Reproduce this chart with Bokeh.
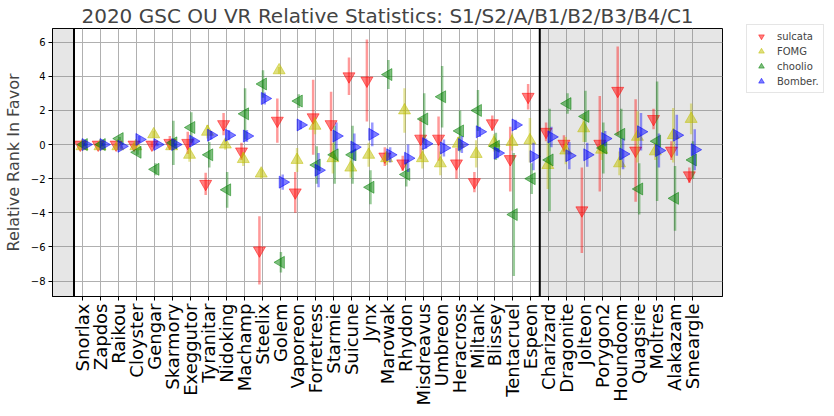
import numpy as np
from bokeh.plotting import figure
from bokeh.models import (ColumnDataSource, FixedTicker, BoxAnnotation, Span,
                          Legend, LegendItem, Range1d)
from bokeh.embed import file_html
from bokeh.resources import INLINE

pokemon = ["Snorlax", "Zapdos", "Raikou", "Cloyster", "Gengar", "Skarmory",
           "Exeggutor", "Tyranitar", "Nidoking", "Machamp", "Steelix", "Golem",
           "Vaporeon", "Forretress", "Starmie", "Suicune", "Jynx", "Marowak",
           "Rhydon", "Misdreavus", "Umbreon", "Heracross", "Miltank", "Blissey",
           "Tentacruel", "Espeon", "Charizard", "Dragonite", "Jolteon",
           "Porygon2", "Houndoom", "Quagsire", "Moltres", "Alakazam", "Smeargle"]

sulcata = [0.0, 0.0, 0.0, 0.0, 0.0, 0.1, 0.1, -2.3, 1.2, -0.4, -6.2, 1.4,
           -2.8, 1.6, 1.2, 4.0, 3.75, -0.7, -1.1, 0.35, 0.35, -1.1, -2.2, 1.25,
           -0.85, 2.8, 0.75, 0.05, -3.85, 0.05, 3.15, -0.35, 1.5, -0.35, -1.8]
sulcata_err = [0.1, 0.1, 0.1, 0.1, 0.15, 0.4, 0.65, 0.65, 0.65, 0.5, 2.0, 1.3,
               1.2, 2.2, 1.9, 1.1, 2.4, 0.55, 0.45, 1.2, 1.3, 0.9, 0.6, 0.45,
               1.9, 0.75, 0.55, 0.5, 2.5, 2.8, 2.6, 3.0, 0.6, 0.55, 0.45]

fomg = [-0.1, -0.1, -0.1, -0.1, 0.6, -0.1, -0.6, 0.75, 0.0, -0.85, -1.7, 4.35,
        -0.9, 1.1, -0.8, -1.35, -0.6, -0.8, 2.0, -0.8, -1.1, 0.05, -0.55, 0.1,
        0.15, 0.25, -1.2, -0.35, 0.95, -0.3, -1.1, 0.45, -0.4, 0.55, 1.5]
fomg_err = [0.1, 0.1, 0.1, 0.1, 0.2, 0.2, 0.4, 0.4, 0.3, 0.4, 0.3, 0.2,
            0.7, 0.5, 0.9, 0.6, 0.7, 0.4, 1.3, 0.6, 0.7, 0.4, 0.8, 0.5,
            0.5, 1.3, 1.4, 0.8, 0.8, 0.6, 0.7, 1.5, 0.5, 1.6, 0.9]

choolio = [0.0, 0.0, 0.35, -0.45, -1.45, 0.1, 1.0, -0.6, -2.65, 1.8, 3.55, -6.9,
           2.55, -1.2, -0.6, -0.6, -2.5, 4.1, -1.75, 1.5, 2.8, 0.8, 2.0, -0.1,
           -4.1, -2.0, -0.9, 2.4, 1.65, -0.2, 0.6, -2.6, 0.2, -3.15, -0.9]
choolio_err = [0.1, 0.1, 0.1, 0.15, 0.35, 1.3, 0.9, 0.75, 1.05, 1.5, 0.8, 0.6,
               0.4, 1.1, 1.7, 1.7, 1.0, 0.85, 0.7, 1.5, 1.8, 1.2, 1.2, 0.8,
               3.6, 0.9, 3.0, 0.6, 1.5, 1.5, 1.5, 1.5, 3.5, 1.9, 1.1]

bomber = [0.0, 0.0, -0.1, 0.3, 0.0, 0.0, 0.2, 0.55, 0.55, 0.5, 2.7, -2.2,
          1.15, -1.5, 0.5, -0.15, 0.6, -0.6, -0.8, 0.05, -0.2, 0.0, 0.75, -0.5,
          1.15, -0.7, 0.45, -0.65, -0.6, 0.35, -0.55, 0.75, -0.35, 0.55, -0.3]
bomber_err = [0.1, 0.1, 0.15, 0.2, 0.1, 0.1, 0.2, 0.25, 0.3, 0.35, 0.35, 0.45,
              0.25, 1.0, 0.8, 0.8, 0.7, 0.45, 0.8, 0.3, 0.5, 0.5, 0.3, 0.3,
              0.3, 0.8, 0.6, 0.8, 0.7, 0.45, 0.9, 1.1, 1.0, 1.2, 1.2]

FONT = "DejaVu Sans"

p = figure(frame_width=670, frame_height=268, output_backend="svg",
           toolbar_location=None, x_range=Range1d(-1.7, 35.7),
           y_range=Range1d(-8.9, 6.8),
           title="2020 GSC OU VR Relative Statistics: S1/S2/A/B1/B2/B3/B4/C1",
           min_border_left=0, min_border_top=0, min_border_bottom=0,
           min_border_right=0)
p.background_fill_color = "white"
p.border_fill_color = "white"
p.outline_line_color = "black"
p.outline_line_width = 1

p.title.text_font = FONT
p.title.text_font_size = "20px"
p.title.text_font_style = "normal"
p.title.align = "center"
p.title.standoff = 2

# shaded regions and dividers
p.add_layout(BoxAnnotation(left=-1.7, right=-0.5, fill_color="gray",
                           fill_alpha=0.2, line_alpha=0, level="underlay"))
p.add_layout(BoxAnnotation(left=25.5, right=35.7, fill_color="gray",
                           fill_alpha=0.2, line_alpha=0, level="underlay"))
p.add_layout(Span(location=-0.5, dimension="height", line_color="black",
                  line_width=2))
p.add_layout(Span(location=25.5, dimension="height", line_color="black",
                  line_width=2))

x = np.arange(len(pokemon))
series = [
    ("sulcata", sulcata, sulcata_err, -0.15, "#ff0000", "inverted_triangle", 0.0),
    ("FOMG", fomg, fomg_err, -0.05, "#bfbf00", "triangle", 0.0),
    ("choolio", choolio, choolio_err, 0.05, "#008000", "triangle", np.pi / 2),
    ("Bomber.", bomber, bomber_err, 0.15, "#0000ff", "triangle", -np.pi / 2),
]

items = []
for name, vals, errs, off, col, mk, ang in series:
    v = np.array(vals)
    e = np.array(errs)
    src = ColumnDataSource(dict(x=x + off, y=v, lo=v - e, hi=v + e))
    p.segment(x0="x", y0="lo", x1="x", y1="hi", source=src, line_color=col,
              line_alpha=0.4, line_width=2.5)
    r = p.scatter(x="x", y="y", source=src, marker=mk, angle=ang, size=12,
                  fill_color=col, fill_alpha=0.5, line_color=col,
                  line_alpha=0.5)
    items.append(LegendItem(label=name, renderers=[r]))

legend = Legend(items=items, location=(24, 203), orientation="vertical")
legend.label_text_font = FONT
legend.label_text_font_size = "10px"
legend.glyph_width = 20
legend.glyph_height = 14
legend.label_height = 14
legend.label_standoff = 6
legend.spacing = 1
legend.padding = 4
legend.margin = 0
legend.border_line_color = "#cccccc"
legend.border_line_width = 1
legend.background_fill_alpha = 0.8
p.add_layout(legend, "right")

p.xgrid.grid_line_color = "#b0b0b0"
p.ygrid.grid_line_color = "#b0b0b0"
p.xgrid.grid_line_width = 1
p.ygrid.grid_line_width = 1

p.xaxis.ticker = FixedTicker(ticks=list(range(len(pokemon))))
p.xaxis.major_label_overrides = {i: n for i, n in enumerate(pokemon)}
p.xaxis.major_label_orientation = np.pi / 2
p.xaxis.major_label_text_font = FONT
p.xaxis.major_label_text_font_size = "18px"
p.xaxis.major_label_standoff = 3

p.yaxis.ticker = FixedTicker(ticks=[-8, -6, -4, -2, 0, 2, 4, 6])
p.yaxis.axis_label = "Relative Rank In Favor"
p.yaxis.axis_label_text_font = FONT
p.yaxis.axis_label_text_font_size = "16px"
p.yaxis.axis_label_text_font_style = "normal"
p.yaxis.axis_label_standoff = 5
p.yaxis.major_label_text_font = FONT
p.yaxis.major_label_text_font_size = "10px"
p.yaxis.major_label_standoff = 3

for ax in (p.xaxis, p.yaxis):
    ax.major_tick_in = 0
    ax.major_tick_out = 4
    ax.minor_tick_line_color = None
    ax.axis_line_color = "black"
    ax.major_tick_line_color = "black"
    ax.major_label_text_color = "black"

open("out.html", "w").write(file_html(p, INLINE))
